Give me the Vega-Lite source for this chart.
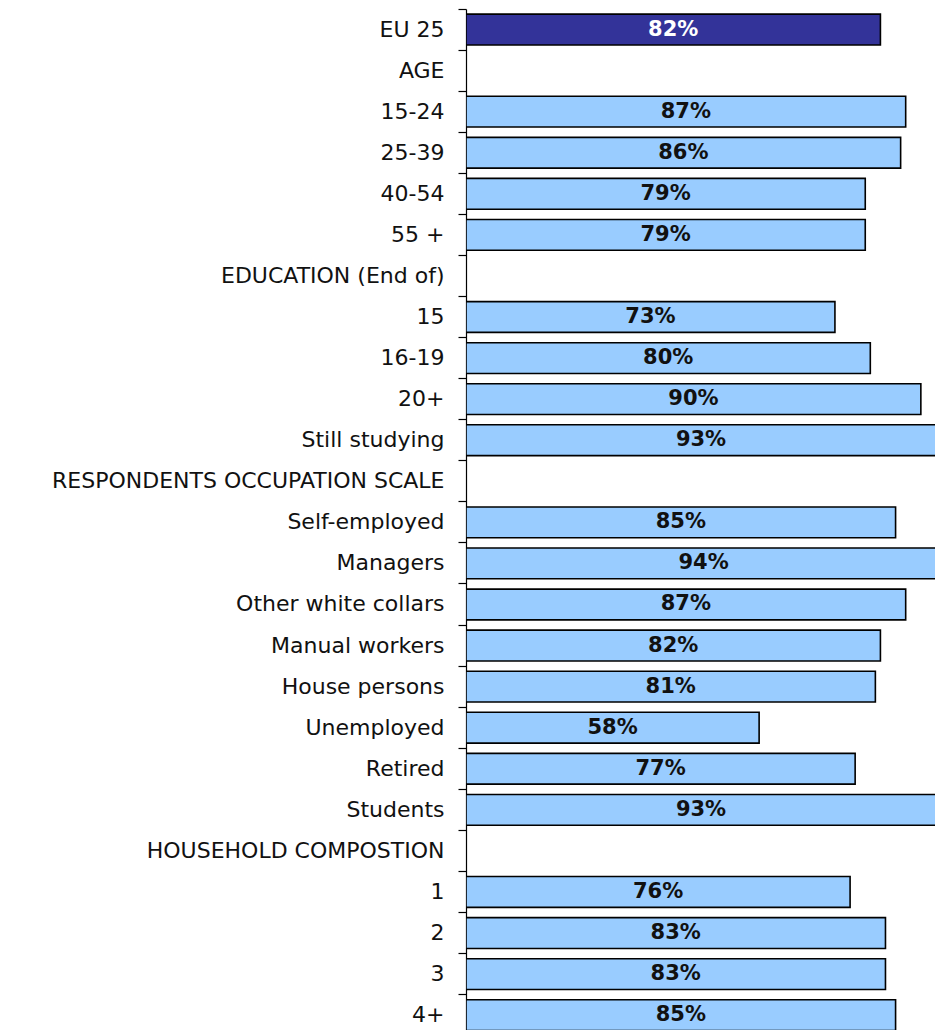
{
  "$schema": "https://vega.github.io/schema/vega-lite/v6.json",
  "autosize": {"type": "none"},
  "padding": {"left": 466, "top": 0, "right": 0, "bottom": 0},
  "width": 469,
  "height": 1030,
  "background": "white",
  "config": {"view": {"stroke": null}},
  "data": {
    "values": [
      {"category": "EU 25", "value": 0.82, "group": "total"},
      {"category": "AGE", "value": null, "group": "header"},
      {"category": "15-24", "value": 0.87, "group": "sub"},
      {"category": "25-39", "value": 0.86, "group": "sub"},
      {"category": "40-54", "value": 0.79, "group": "sub"},
      {"category": "55 +", "value": 0.79, "group": "sub"},
      {"category": "EDUCATION (End of)", "value": null, "group": "header"},
      {"category": "15", "value": 0.73, "group": "sub"},
      {"category": "16-19", "value": 0.80, "group": "sub"},
      {"category": "20+", "value": 0.90, "group": "sub"},
      {"category": "Still studying", "value": 0.93, "group": "sub"},
      {"category": "RESPONDENTS OCCUPATION SCALE", "value": null, "group": "header"},
      {"category": "Self-employed", "value": 0.85, "group": "sub"},
      {"category": "Managers", "value": 0.94, "group": "sub"},
      {"category": "Other white collars", "value": 0.87, "group": "sub"},
      {"category": "Manual workers", "value": 0.82, "group": "sub"},
      {"category": "House persons", "value": 0.81, "group": "sub"},
      {"category": "Unemployed", "value": 0.58, "group": "sub"},
      {"category": "Retired", "value": 0.77, "group": "sub"},
      {"category": "Students", "value": 0.93, "group": "sub"},
      {"category": "HOUSEHOLD COMPOSTION", "value": null, "group": "header"},
      {"category": "1", "value": 0.76, "group": "sub"},
      {"category": "2", "value": 0.83, "group": "sub"},
      {"category": "3", "value": 0.83, "group": "sub"},
      {"category": "4+", "value": 0.85, "group": "sub"}
    ]
  },
  "resolve": {"scale": {"x": "independent"}, "axis": {"y": "independent"}},
  "layer": [
    {
      "transform": [{"filter": "datum.value != null"}],
      "mark": {"type": "bar", "height": {"band": 0.75}, "stroke": "#000000", "strokeWidth": 1.6, "clip": true},
      "encoding": {
        "y": {
          "field": "category", "type": "nominal", "sort": null,
          "scale": {
            "domain": ["EU 25", "AGE", "15-24", "25-39", "40-54", "55 +", "EDUCATION (End of)", "15", "16-19", "20+", "Still studying", "RESPONDENTS OCCUPATION SCALE", "Self-employed", "Managers", "Other white collars", "Manual workers", "House persons", "Unemployed", "Retired", "Students", "HOUSEHOLD COMPOSTION", "1", "2", "3", "4+"],
            "range": [9, 1035.7], "paddingInner": 0, "paddingOuter": 0
          },
          "axis": {
            "orient": "left", "title": null, "ticks": false, "tickSize": 0,
            "labelPadding": 22, "labelFont": "DejaVu Sans", "labelFontSize": 22,
            "labelColor": "#111111", "labelLimit": 600,
            "domain": true, "domainColor": "#000000", "domainWidth": 1.2
          }
        },
        "x": {
          "field": "value", "type": "quantitative",
          "scale": {"domain": [0, 0.928], "nice": false, "zero": true},
          "axis": null
        },
        "color": {
          "field": "group", "type": "nominal",
          "scale": {"domain": ["total", "sub"], "range": ["#333399", "#99CCFF"]},
          "legend": null
        }
      }
    },
    {
      "transform": [{"filter": "datum.value != null"}],
      "mark": {"type": "text", "font": "DejaVu Sans", "fontWeight": "bold", "fontSize": 21, "align": "center", "baseline": "middle"},
      "encoding": {
        "y": {
          "field": "category", "type": "nominal", "sort": null,
          "axis": {
            "orient": "left", "title": null, "labels": false, "ticks": true,
            "tickSize": 8, "tickColor": "#000000", "tickWidth": 1.2,
            "bandPosition": 0, "domain": false
          }
        },
        "x": {
          "field": "value", "type": "quantitative",
          "scale": {"domain": [0, 1.856], "nice": false, "zero": true},
          "axis": null
        },
        "text": {"field": "value", "type": "quantitative", "format": ".0%"},
        "color": {
          "condition": {"test": "datum.group === 'total'", "value": "#ffffff"},
          "value": "#111111"
        }
      }
    }
  ]
}
